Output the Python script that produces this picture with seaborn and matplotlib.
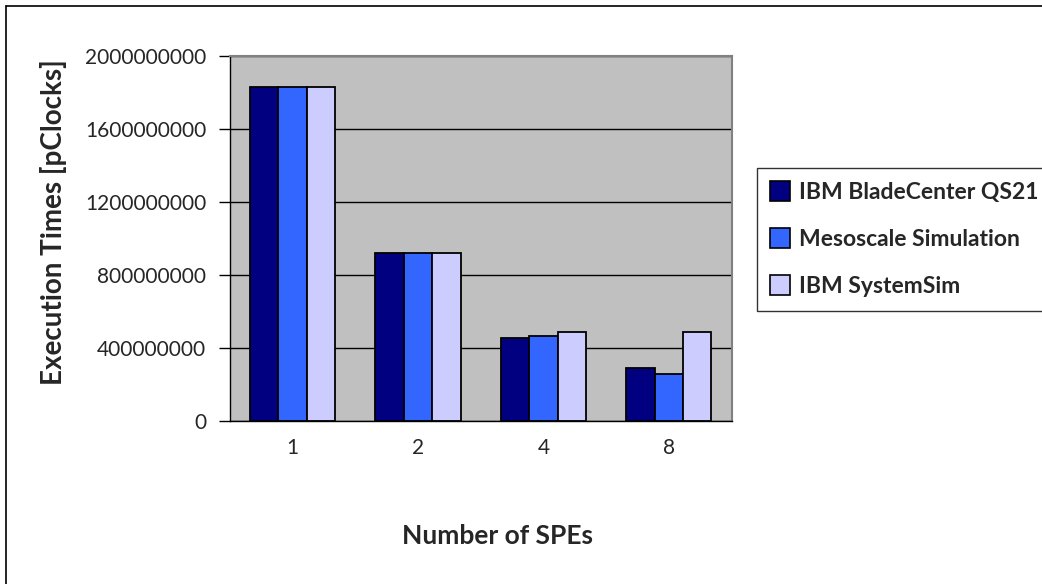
import matplotlib
matplotlib.use("Agg")
import matplotlib.pyplot as plt
from matplotlib.lines import Line2D
from matplotlib.ticker import FixedLocator
import seaborn as sns
import pandas as pd

# Execution time per number of SPEs, in pClocks
spes = ["1", "2", "4", "8"]
series = ["IBM BladeCenter QS21", "Mesoscale Simulation", "IBM SystemSim"]
qs21 = [1832000000, 922000000, 456000000, 289000000]
mesoscale = [1832000000, 922000000, 467000000, 256000000]
systemsim = [1832000000, 922000000, 488000000, 488000000]
y_ticks = [0, 400000000, 800000000, 1200000000, 1600000000, 2000000000]

colors = ["#000080", "#3366FF", "#CCCCFF"]

df = pd.DataFrame({
    "SPEs": spes * 3,
    "Series": [s for s in series for _ in spes],
    "Time": qs21 + mesoscale + systemsim,
})

sns.set_style("white")
plt.rcParams["font.family"] = ["Lato", "DejaVu Sans"]

W, H = 1042, 584
fig = plt.figure(figsize=(W / 100, H / 100), dpi=100)
ax = fig.add_axes([230 / W, 1 - 421 / H, 501.5 / W, 365 / H])

sns.barplot(data=df, x="SPEs", y="Time", hue="Series", order=spes,
            hue_order=series, palette=colors, width=0.68, gap=0,
            edgecolor="black", linewidth=1.3, saturation=1, ax=ax,
            legend=False, errorbar=None)

ax.set_facecolor("#C0C0C0")
ax.set_ylim(0, 2000000000)
ax.set_xlim(-0.5, 3.5)
ax.set_yticks(y_ticks)
ax.set_yticklabels([str(v) for v in y_ticks], fontsize=15)
ax.yaxis.grid(True, color="black", linewidth=1.0)
ax.set_axisbelow(True)

# category labels without ticks; ticks sit on category boundaries
ax.tick_params(axis="x", which="major", length=0, labelsize=15, pad=12)
ax.xaxis.set_minor_locator(FixedLocator([-0.5, 0.5, 1.5, 2.5, 3.5]))
ax.tick_params(axis="x", which="minor", length=8, width=1, color="black",
               direction="out")
ax.tick_params(axis="y", which="major", length=8, width=1, color="black",
               direction="out", pad=9, left=True)

for side in ["top", "right"]:
    ax.spines[side].set_color("#808080")
    ax.spines[side].set_linewidth(1.5)
for side in ["left", "bottom"]:
    ax.spines[side].set_color("black")
    ax.spines[side].set_linewidth(1.0)

ax.set_xlabel("")
ax.set_ylabel("")
fig.text(498 / W, 1 - 536 / H, "Number of SPEs", fontsize=19,
         fontweight="bold", ha="center", va="center")
fig.text(54 / W, 1 - 222 / H, "Execution Times [pClocks]", fontsize=20,
         fontweight="bold", ha="center", va="center", rotation=90)

handles = [Line2D([], [], marker="s", linestyle="none", markersize=15,
                  markerfacecolor=c, markeredgecolor="black",
                  markeredgewidth=1.2) for c in colors]
leg = fig.legend(handles, series, loc="upper left",
                 bbox_to_anchor=(757 / W, 1 - 168 / H),
                 frameon=True, fancybox=False, edgecolor="black",
                 prop={"weight": "bold", "size": 16.5}, handlelength=0.8,
                 handletextpad=0.45, labelspacing=1.15, borderpad=0.6,
                 borderaxespad=0)
leg.get_frame().set_linewidth(1.0)

# chart border on the left and top edges
fig.add_artist(Line2D([6 / W, 6 / W], [0, 1 - 6 / H],
                      transform=fig.transFigure, color="black", linewidth=1.2))
fig.add_artist(Line2D([6 / W, 1], [1 - 6 / H, 1 - 6 / H],
                      transform=fig.transFigure, color="black", linewidth=1.2))

fig.savefig("out.png", dpi=100)
